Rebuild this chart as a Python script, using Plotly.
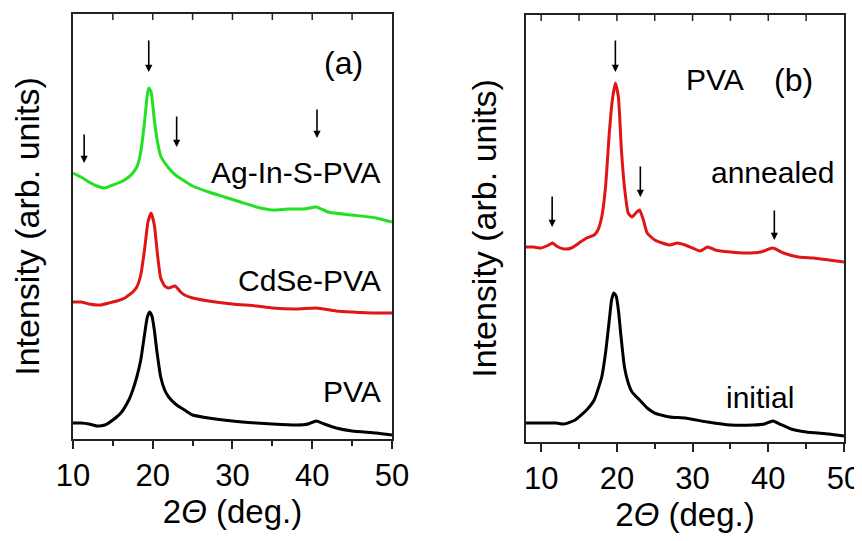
import plotly.graph_objects as go

# panel (a): PVA films with nanocrystals
a_pva_x = [10, 11, 12, 13, 14, 15, 16, 17, 17.5, 18, 18.5, 19, 19.3, 19.6, 19.9, 20.2, 20.5, 21, 21.5, 22,
           23, 24, 25, 27, 30, 33, 35, 38, 39.5, 40.5, 41.5, 43, 45, 48, 50]
a_pva_y = [16, 16, 15, 13, 14, 19, 26, 39, 49, 62, 79, 106, 121, 127, 123, 109, 89, 62, 49, 42,
           34, 29, 24, 21, 18, 16, 15, 14, 15, 18, 15, 11, 8, 6, 4]

a_cdse_x = [10, 11, 12, 13, 13.5, 14.5, 15.5, 16.5, 17, 17.5, 18, 18.5, 19, 19.4, 19.8, 20.2, 20.6, 21, 21.5, 22,
            22.8, 23.5, 24, 25, 27, 30, 33, 35, 38, 40.5, 43, 45, 48, 50]
a_cdse_y = [137, 137, 135, 134, 134, 136, 138, 141, 144, 147, 152, 164, 191, 217, 226, 214, 184, 161, 153, 151,
            153, 147, 144, 141, 138, 135, 133, 131, 130, 131, 128, 127, 126, 126]

a_agins_x = [10, 11, 12, 13, 14, 15, 16, 17, 17.5, 18, 18.5, 19, 19.3, 19.5, 19.8, 20.2, 20.6, 21, 22, 23,
             24, 25, 27, 29, 31, 33, 35, 37, 39, 40.5, 42, 45, 48, 50]
a_agins_y = [266, 262, 257, 253, 251, 254, 257, 262, 266, 272, 287, 319, 343, 351, 347, 319, 297, 283, 271, 263,
             258, 253, 247, 242, 237, 232, 229, 230, 230, 232, 227, 224, 221, 217]

a_arrow_x = [11.4, 19.5, 23.0, 40.6]
a_arrow_top = [306, 400, 324, 331]
a_arrow_tip = [276, 367, 292, 301]

# panel (b): PVA initial / annealed
b_init_x = [8, 10, 12, 13, 14.5, 16, 17, 18, 18.5, 19, 19.3, 19.6, 19.9, 20.2, 20.5, 21, 21.5, 22, 23, 24,
            25, 27, 29, 32, 35, 38, 39.5, 40.6, 41.5, 43, 45, 48, 50]
b_init_y = [19, 19, 19, 18, 22, 32, 42, 65, 89, 122, 142, 149, 146, 132, 109, 75, 59, 50, 42, 34,
            29, 25, 24, 20, 17, 17, 18, 21, 18, 13, 10, 8, 6]

b_ann_x = [8, 9, 10, 11, 11.5, 12, 13, 14, 15, 16, 17, 17.5, 18, 18.5, 19, 19.4, 19.8, 20.2, 20.6, 21,
           21.5, 22, 22.5, 23, 23.5, 24, 25, 26, 27, 28, 29, 30, 31, 32, 33, 35, 37, 39, 40.6, 42,
           44, 46, 48, 50]
b_ann_y = [195, 195, 194, 197, 199, 196, 193, 194, 199, 204, 207, 212, 225, 255, 309, 342, 359, 345, 292, 255,
           229, 225, 229, 232, 222, 209, 202, 199, 197, 199, 197, 194, 191, 195, 192, 190, 189, 190, 194, 189,
           185, 184, 182, 180]

b_arrow_x = [11.45, 19.8, 23.1, 40.8]
b_arrow_top = [247, 403, 277, 233]
b_arrow_tip = [215, 370, 245, 202]

FONT = "Liberation Sans, Arial, sans-serif"
FRAME = "#222222"
GREEN = "#22e022"
RED = "#e01515"

fig = go.Figure()


def curve(x, y, color, xa, ya):
    return go.Scatter(x=x, y=y, mode="lines", xaxis=xa, yaxis=ya,
                      line=dict(color=color, width=3, shape="spline", smoothing=0.5))


fig.add_trace(curve(a_agins_x, a_agins_y, GREEN, "x", "y"))
fig.add_trace(curve(a_cdse_x, a_cdse_y, RED, "x", "y"))
fig.add_trace(curve(a_pva_x, a_pva_y, "black", "x", "y"))
fig.add_trace(curve(b_ann_x, b_ann_y, RED, "x2", "y2"))
fig.add_trace(curve(b_init_x, b_init_y, "black", "x2", "y2"))

# peak arrows
for xs, tops, tips, xr, yr in [(a_arrow_x, a_arrow_top, a_arrow_tip, "x", "y"),
                               (b_arrow_x, b_arrow_top, b_arrow_tip, "x2", "y2")]:
    for x, t, p in zip(xs, tops, tips):
        fig.add_annotation(x=x, y=p, ax=x, ay=t, xref=xr, yref=yr, axref=xr, ayref=yr,
                           text="", showarrow=True, arrowhead=2, arrowsize=0.9, arrowwidth=1.6,
                           arrowcolor="black")

# inward ticks along the top edge of each frame
for xr, yr, lo in [("x", "y domain", 15), ("x2", "y2 domain", 10)]:
    for t in range(lo, 50, 5):
        fig.add_shape(type="line", x0=t, x1=t, y0=1, y1=0.986, xref=xr, yref=yr,
                      line=dict(color=FRAME, width=1.5))

labels = [
    ("(a)", 46.6, 376, "x", "y", 32),
    ("Ag-In-S-PVA", 48.9, 267, "x", "y", 30),
    ("CdSe-PVA", 48.9, 159, "x", "y", 30),
    ("PVA", 48.9, 47, "x", "y", 30),
    ("PVA", 37.0, 362, "x2", "y2", 30),
    ("(b)", 46.2, 362, "x2", "y2", 32),
    ("annealed", 49.0, 269, "x2", "y2", 30),
    ("initial", 43.6, 45, "x2", "y2", 30),
]
for txt, x, y, xr, yr, sz in labels:
    fig.add_annotation(x=x, y=y, xref=xr, yref=yr, text=txt, showarrow=False, xanchor="right",
                       font=dict(size=sz, color="black", family=FONT))

bottom_axis = dict(
    showline=True, linecolor=FRAME, linewidth=2, mirror=True,
    ticks="outside", ticklen=8, tickwidth=1.5, tickcolor=FRAME, dtick=10, tick0=10,
    minor=dict(ticks="outside", ticklen=5, tickwidth=1.5, tickcolor=FRAME, dtick=5),
    showgrid=False, zeroline=False,
    tickfont=dict(size=31, color="black", family=FONT),
    title=dict(text="2<i>Θ</i> (deg.)", font=dict(size=33, color="black", family=FONT), standoff=8),
    automargin=False,
)
left_axis = dict(
    showline=True, linecolor=FRAME, linewidth=2, mirror=True, ticks="", showticklabels=False,
    showgrid=False, zeroline=False, automargin=False,
)
ytitle_font = dict(size=34, color="black", family=FONT)

# page body has an 8px margin, so the figure is 8px smaller than the window
fig.update_layout(
    width=854, height=533,
    margin=dict(l=0, r=0, t=0, b=0),
    paper_bgcolor="white", plot_bgcolor="white",
    showlegend=False,
    font=dict(family=FONT, color="black"),
    xaxis=dict(bottom_axis, domain=[0.0761, 0.4496], range=[10, 50], anchor="y"),
    yaxis=dict(left_axis, domain=[0.1914, 0.9887], range=[0, 425], anchor="x",
               title=dict(text="Intensity (arb. units)", font=ytitle_font, standoff=24)),
    xaxis2=dict(bottom_axis, domain=[0.6066, 0.9789], range=[8, 50], anchor="y2"),
    yaxis2=dict(left_axis, domain=[0.1857, 0.9869], range=[0, 427], anchor="x2",
                title=dict(text="Intensity (arb. units)", font=ytitle_font, standoff=17)),
)

fig.write_html("out.html")
